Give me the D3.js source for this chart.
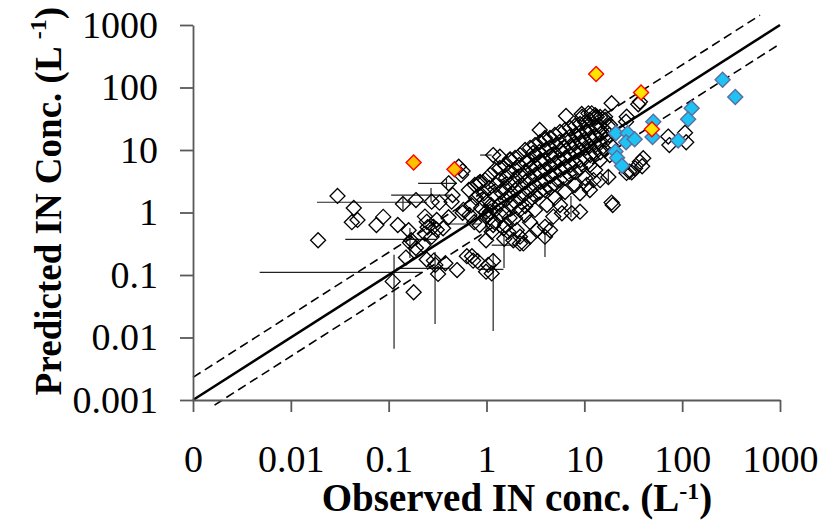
<!DOCTYPE html>
<html>
<head>
<meta charset="utf-8">
<script src="https://cdn.jsdelivr.net/npm/d3@7"></script>
<style>
  body { margin: 0; background: #fff; }
  text { font-family: "Liberation Serif", "Times New Roman", serif; }
</style>
</head>
<body>
<div id="chart"></div>
<script>
// axis ticks
const obsTicks = [0.001, 0.01, 0.1, 1, 10, 100, 1000];
const obsTickLabels = ["0", "0.01", "0.1", "1", "10", "100", "1000"];
const predTicks = [0.001, 0.01, 0.1, 1, 10, 100, 1000];
const predTickLabels = ["0.001", "0.01", "0.1", "1", "10", "100", "1000"];

// reference lines: predicted = factor * observed, between obs limits
const refFactor = [1, 2.3, 0.5];
const refFrom = [0.001, 0.001, 0.00166];
const refTo = [1000, 625, 1000];

// open diamonds [observed, predicted]
const openPts = [
  [0.019, 0.36], [0.030, 1.84], [0.044, 1.18], [0.042, 0.70], [0.048, 0.76],
  [0.075, 0.63], [0.088, 0.85], [0.124, 0.63], [0.14, 1.37], [0.19, 1.58],
  [0.16, 0.52], [0.165, 0.33], [0.17, 0.36], [0.15, 0.19], [0.11, 0.079],
  [0.18, 0.053], [0.245, 0.71], [0.275, 1.49], [0.33, 1.44], [0.41, 2.93],
  [0.44, 1.49], [0.55, 4.0], [0.52, 5.4], [0.58, 1.1], [0.57, 0.99],
  [0.235, 0.86], [0.25, 0.58], [0.31, 0.76], [0.41, 0.84], [0.36, 0.56],
  [0.31, 0.53], [0.275, 0.41], [0.235, 0.46], [0.94, 2.03], [0.86, 3.0],
  [1.17, 8.3], [1.37, 7.8], [1.74, 7.1], [1.09, 1.03], [0.99, 0.86],
  [1.17, 0.63], [1.49, 0.56], [1.13, 0.49], [1.52, 0.38], [0.99, 0.36],
  [1.88, 0.36], [2.2, 0.32], [0.63, 0.2], [0.73, 0.17], [0.81, 0.167],
  [1.04, 0.145], [1.13, 0.106], [0.99, 0.113], [0.5, 0.12], [0.32, 0.104],
  [0.29, 0.17], [0.245, 0.177], [0.19, 0.27], [0.3, 0.145], [0.38, 0.154],
  [0.71, 0.2], [1.17, 0.167], [1.67, 0.49], [2.04, 0.52], [2.38, 0.32],
  [2.2, 0.41], [2.79, 0.41], [3.26, 0.52], [3.96, 0.59], [0.286, 0.59],
  [0.226, 0.30], [4.15, 1.32], [4.82, 0.86], [5.9, 0.97], [7.43, 0.97],
  [9.04, 1.03], [19.5, 1.32], [4.46, 0.52], [3.96, 0.41], [6.5, 35],
  [9.4, 37.7], [19, 56], [37, 59], [26.7, 28.4], [17.6, 24.2],
  [11, 38.6], [12.9, 36], [16.3, 34], [37, 6.5], [33, 5.1],
  [28.8, 4.5], [40, 7.4], [17.6, 3.7], [19, 1.44], [10.6, 2.75],
  [12.4, 3.3], [9.04, 2.03], [72, 16.4], [74, 12], [107, 18.9],
  [110, 13.3], [39, 5.5], [27, 4.3], [30.5, 4.4], [35.6, 54],
  [27.1, 34], [9.5, 34], [11.9, 38.6], [13.4, 34], [3.5, 20.9],
  [3.96, 15.6], [2.99, 8.95], [0.57, 4.6], [0.82, 2.9], [0.45, 1.9],
  [1.55, 0.63], [1.96, 0.82], [2.48, 0.91], [3.13, 1.1], [5.0, 1.71],
  [6.35, 2.13], [8.03, 2.75], [10.2, 3.56], [12.9, 4.8], [14.5, 3.3],
  [2.79, 0.70], [5.64, 1.32], [11.4, 2.29],
  // dense band
  [0.66, 2.29], [0.70, 1.32], [0.67, 0.91],
  [0.76, 2.75], [0.78, 1.71], [0.75, 0.70],
  [0.86, 3.08], [0.84, 1.9], [0.88, 1.18], [0.85, 0.63],
  [0.97, 3.3], [0.95, 1.58], [0.99, 1.02],
  [1.09, 4.0], [1.07, 2.47], [1.11, 1.32], [1.08, 0.82],
  [1.22, 4.8], [1.25, 2.75], [1.2, 1.9], [1.23, 1.1], [1.21, 0.70],
  [1.37, 5.15], [1.35, 3.3], [1.4, 2.13], [1.36, 1.37], [1.39, 0.91],
  [1.55, 5.75], [1.58, 3.56], [1.52, 2.47], [1.56, 1.58], [1.53, 1.02],
  [1.74, 6.9], [1.71, 4.45], [1.77, 2.75], [1.73, 1.9], [1.76, 1.32], [1.72, 0.82],
  [1.96, 7.45], [1.99, 4.8], [1.93, 3.3], [1.97, 2.29], [1.95, 1.47],
  [2.2, 8.3], [2.16, 5.75], [2.24, 3.84], [2.18, 2.65], [2.22, 1.71], [2.19, 1.1],
  [2.48, 10], [2.52, 6.4], [2.45, 4.45], [2.5, 3.08], [2.46, 1.98], [2.49, 1.27],
  [2.79, 10.8], [2.75, 6.9], [2.83, 5.15], [2.77, 3.56], [2.81, 2.29], [2.78, 1.58],
  [3.13, 12], [3.18, 8.3], [3.09, 5.75], [3.15, 4.0], [3.1, 2.75], [3.14, 1.84],
  [3.52, 13.4], [3.47, 9.3], [3.56, 6.4], [3.5, 4.45], [3.55, 3.08], [3.51, 2.13],
  [3.96, 14.5], [4.02, 10], [3.91, 6.9], [3.98, 4.8], [3.93, 3.3], [3.97, 2.29],
  [4.46, 15.6], [4.4, 10.8], [4.52, 8.0], [4.44, 5.55], [4.49, 3.84], [4.45, 2.47],
  [5.0, 17.4], [5.08, 12], [4.93, 8.3], [5.03, 6.2], [4.96, 4.3], [5.01, 2.86],
  [5.64, 19.4], [5.57, 13.4], [5.72, 10], [5.6, 6.9], [5.68, 4.8], [5.62, 3.3],
  [6.35, 20.9], [6.44, 14.5], [6.27, 10.8], [6.38, 7.45], [6.3, 5.35], [6.36, 3.56],
  [7.14, 22.5], [7.04, 16.1], [7.24, 11.6], [7.1, 8.3], [7.2, 5.75], [7.12, 4.0],
  [8.03, 24.2], [8.15, 17.4], [7.92, 12.5], [8.07, 9.3], [7.96, 6.4], [8.05, 4.45],
  [9.04, 26.1], [8.9, 18.7], [9.17, 13.4], [9.0, 10], [9.1, 6.9], [9.06, 5.15],
  [10.2, 28.1], [10.4, 20.1], [10.0, 14.5], [10.3, 10.8], [10.1, 7.45],
  [11.4, 30.2], [11.2, 21.7], [11.6, 15.6], [11.3, 11.6], [11.5, 8.3], [11.4, 5.75],
  [12.9, 32.5], [13.1, 23.3], [12.7, 16.7], [13.0, 12], [12.8, 8.95],
  [14.5, 33.7], [14.3, 24.2], [14.7, 18.0], [14.4, 12.9], [14.6, 9.3], [14.5, 6.9],
  [16.3, 30.2], [16.1, 20.9], [16.5, 14.5], [16.2, 10],
  [18.3, 25.1], [18.0, 17.4], [18.6, 12], [18.2, 8.3]
];

// filled blue diamonds [observed, predicted]
const bluePts = [
  [259, 133], [349, 70.5], [125, 46.5], [115, 31], [50.7, 28.4],
  [49.8, 16.1], [91, 14.2], [21, 18.5], [27.7, 18.5], [26.7, 13.3],
  [32.7, 14.8], [20.8, 9.5], [21.6, 7.5], [24.3, 5.6]
];

// filled yellow diamonds [observed, predicted]
const yellowPts = [[0.18, 6.3], [0.47, 4.9], [13.2, 164], [38, 83], [49, 21.4]];

// horizontal error bars [predicted, obs low, obs high]
const hBars = [
  [1.46, 0.0185, 0.247], [0.372, 0.036, 0.31], [0.11, 0.0048, 0.22],
  [0.128, 0.12, 0.42], [1.9, 0.106, 0.42], [2.93, 0.2, 0.5],
  [0.123, 0.82, 1.49], [0.30, 1.13, 2.04], [0.655, 0.38, 0.86], [8.3, 0.86, 1.13]
];

// vertical error bars [observed, pred low, pred high]
const vBars = [
  [0.1135, 0.0066, 0.21], [0.298, 0.0164, 0.233], [1.17, 0.0127, 0.225],
  [1.51, 0.13, 0.42], [0.165, 0.187, 0.565], [0.14, 1.06, 1.77],
  [0.271, 1.47, 2.47], [0.39, 2.47, 3.44], [0.99, 0.47, 0.91],
  [3.96, 0.194, 0.46], [7.3, 0.84, 1.84], [17.6, 2.9, 4.8]
];

const width = 838, height = 523;
const margin = { top: 25, right: 58, bottom: 123, left: 193 };

const svg = d3.select("#chart").append("svg")
  .attr("width", width)
  .attr("height", height);

const x = d3.scaleLog().domain([0.001, 1000]).range([margin.left, width - margin.right]);
const y = d3.scaleLog().domain([0.001, 1000]).range([height - margin.bottom, margin.top]);

const axisColor = "#595959";

// error bars first
svg.append("g").selectAll("line.h").data(hBars).join("line")
  .attr("x1", d => x(d[1])).attr("x2", d => x(d[2]))
  .attr("y1", d => y(d[0])).attr("y2", d => y(d[0]))
  .attr("stroke", "#222").attr("stroke-width", 1.2);
svg.append("g").selectAll("line.v").data(vBars).join("line")
  .attr("x1", d => x(d[0])).attr("x2", d => x(d[0]))
  .attr("y1", d => y(d[1])).attr("y2", d => y(d[2]))
  .attr("stroke", "#222").attr("stroke-width", 1.2);

const r = 7.5;
const diamond = `M0,${-r}L${r},0L0,${r}L${-r},0Z`;

svg.append("g").selectAll("path").data(openPts).join("path")
  .attr("d", diamond)
  .attr("transform", d => `translate(${x(d[0])},${y(d[1])})`)
  .attr("fill", "none")
  .attr("stroke", "#000")
  .attr("stroke-width", 1.3);

// 1:1 and factor lines
const refLines = refFactor.map((k, i) => [[refFrom[i], refFrom[i] * k], [refTo[i], refTo[i] * k]]);
const line = d3.line().x(d => x(d[0])).y(d => y(d[1]));
svg.append("g").selectAll("path").data(refLines).join("path")
  .attr("d", line)
  .attr("fill", "none")
  .attr("stroke", "#000")
  .attr("stroke-width", (d, i) => i === 0 ? 2.6 : 1.6)
  .attr("stroke-dasharray", (d, i) => i === 0 ? null : "9,5");

svg.append("g").selectAll("path").data(bluePts).join("path")
  .attr("d", diamond)
  .attr("transform", d => `translate(${x(d[0])},${y(d[1])})`)
  .attr("fill", "#1fc3f3")
  .attr("stroke", "#5b6d9e")
  .attr("stroke-width", 1.4);

svg.append("g").selectAll("path").data(yellowPts).join("path")
  .attr("d", diamond)
  .attr("transform", d => `translate(${x(d[0])},${y(d[1])})`)
  .attr("fill", (d, i) => i < 2 ? "#ffc000" : "#ffe400")
  .attr("stroke", "#ff0000")
  .attr("stroke-width", 1.4);

// axes
const xAxis = svg.append("g")
  .attr("transform", `translate(0,${height - margin.bottom})`)
  .call(d3.axisBottom(x).tickValues(obsTicks).tickFormat((d, i) => obsTickLabels[i])
    .tickSize(12).tickSizeOuter(0).tickPadding(33));
const yAxis = svg.append("g")
  .attr("transform", `translate(${margin.left},0)`)
  .call(d3.axisLeft(y).tickValues(predTicks).tickFormat((d, i) => predTickLabels[i])
    .tickSize(13).tickSizeOuter(0).tickPadding(22));

[xAxis, yAxis].forEach(a => {
  a.select(".domain").attr("stroke", axisColor).attr("stroke-width", 1.8);
  a.selectAll(".tick line").attr("stroke", axisColor).attr("stroke-width", 1.8);
  a.selectAll(".tick text").attr("fill", "#000").style("font-size", "38px")
    .style("font-family", "'Liberation Serif', 'Times New Roman', serif");
});

// axis titles
const xt = svg.append("text")
  .attr("x", 517).attr("y", 511)
  .attr("text-anchor", "middle")
  .style("font-size", "39px").style("font-weight", "bold");
xt.append("tspan").text("Observed IN conc. (L");
xt.append("tspan").attr("dy", -12).style("font-size", "24px").text("-1");
xt.append("tspan").attr("dy", 12).text(")");

const yt = svg.append("text")
  .attr("transform", "translate(61,201) rotate(-90)")
  .attr("text-anchor", "middle")
  .style("font-size", "37px").style("font-weight", "bold");
yt.append("tspan").text("Predicted IN Conc. (L ");
yt.append("tspan").attr("dy", -15).style("font-size", "24px").text("-1");
yt.append("tspan").attr("dy", 15).text(")");
</script>
</body>
</html>
